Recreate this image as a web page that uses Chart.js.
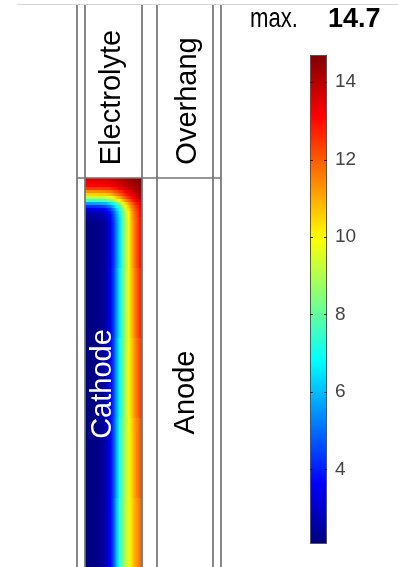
<!DOCTYPE html>
<html>
<head>
<meta charset="utf-8">
<script src="https://cdn.jsdelivr.net/npm/chart.js@4.4.1/dist/chart.umd.min.js"></script>
<style>
  html, body { margin: 0; padding: 0; background: #fff; }
  #wrap { position: relative; width: 398px; height: 567px; overflow: hidden; }
  #wrap canvas { position: absolute; top: 0; }
  #fieldChart { left: 0; }
  #scaleChart { left: 230px; }
</style>
</head>
<body>
<div id="wrap">
  <canvas id="fieldChart" width="398" height="567"></canvas>
  <canvas id="scaleChart" width="168" height="567"></canvas>
</div>
<script>
// cell edges across the cathode and down from its top
const xEdges = [0, 3, 6, 9, 12, 15, 18, 21, 24, 27, 30, 33, 36, 39, 42, 45, 48, 51, 54, 57];
const depthEdges = [0, 3, 6, 9, 12, 15, 18, 21, 24, 27, 30, 33, 36, 39, 42, 45, 90, 160, 240, 320, 389];

// field values, one row per depth band, left -> right
const fieldRows = [
  [13.5, 13.5, 13.5, 13.5, 13.5, 13.5, 13.5, 13.5, 13.6, 13.7, 13.8, 13.9, 14.0, 14.1, 14.2, 14.3, 14.4, 14.5, 14.5],
  [13.3, 13.3, 13.3, 13.3, 13.3, 13.3, 13.3, 13.4, 13.4, 13.5, 13.7, 13.8, 13.9, 14.0, 14.2, 14.3, 14.4, 14.4, 14.5],
  [13.1, 13.1, 13.1, 13.1, 13.1, 13.1, 13.1, 13.2, 13.3, 13.4, 13.5, 13.6, 13.8, 14.0, 14.1, 14.2, 14.3, 14.4, 14.5],
  [12.4, 12.4, 12.4, 12.4, 12.4, 12.4, 12.5, 12.5, 12.6, 12.8, 13.0, 13.2, 13.4, 13.6, 13.8, 14.0, 14.1, 14.3, 14.4],
  [11.4, 11.4, 11.4, 11.4, 11.4, 11.5, 11.5, 11.6, 11.7, 12.0, 12.2, 12.5, 12.8, 13.2, 13.4, 13.7, 13.9, 14.1, 14.2],
  [10.5, 10.5, 10.5, 10.5, 10.6, 10.6, 10.6, 10.7, 10.9, 11.2, 11.6, 11.9, 12.3, 12.7, 13.1, 13.4, 13.7, 13.9, 14.1],
  [9.2, 9.2, 9.2, 9.2, 9.3, 9.3, 9.4, 9.5, 9.7, 10.1, 10.6, 11.0, 11.6, 12.1, 12.6, 13.0, 13.3, 13.7, 13.9],
  [7.6, 7.6, 7.6, 7.6, 7.7, 7.7, 7.8, 8.0, 8.3, 8.8, 9.4, 10.0, 10.7, 11.4, 11.9, 12.5, 13.0, 13.4, 13.7],
  [5.6, 5.6, 5.6, 5.7, 5.7, 5.8, 5.9, 6.1, 6.5, 7.1, 7.9, 8.6, 9.6, 10.4, 11.2, 11.9, 12.5, 13.0, 13.4],
  [4.2, 4.2, 4.2, 4.3, 4.3, 4.4, 4.5, 4.8, 5.2, 6.0, 6.9, 7.7, 8.8, 9.8, 10.6, 11.5, 12.1, 12.7, 13.2],
  [3.3, 3.3, 3.3, 3.4, 3.4, 3.5, 3.6, 3.9, 4.4, 5.2, 6.2, 7.1, 8.3, 9.4, 10.3, 11.2, 11.9, 12.5, 13.1],
  [2.7, 2.7, 2.7, 2.8, 2.8, 2.9, 3.1, 3.3, 3.9, 4.7, 5.8, 6.7, 8.0, 9.1, 10.0, 11.0, 11.8, 12.4, 13.0],
  [2.5, 2.5, 2.5, 2.5, 2.6, 2.7, 2.8, 3.1, 3.6, 4.5, 5.6, 6.6, 7.8, 9.0, 9.9, 10.9, 11.7, 12.4, 13.0],
  [2.3, 2.3, 2.3, 2.4, 2.4, 2.5, 2.7, 3.0, 3.5, 4.4, 5.5, 6.4, 7.7, 8.9, 9.9, 10.9, 11.7, 12.3, 12.9],
  [2.2, 2.2, 2.2, 2.3, 2.3, 2.4, 2.6, 2.9, 3.4, 4.3, 5.4, 6.4, 7.7, 8.9, 9.8, 10.8, 11.6, 12.3, 12.9],
  [2.1, 2.1, 2.12, 2.15, 2.2, 2.3, 2.45, 2.75, 3.3, 4.2, 5.3, 6.4, 7.6, 8.8, 9.8, 10.8, 11.6, 12.3, 12.9],
  [2.1, 2.1, 2.12, 2.15, 2.2, 2.31, 2.49, 2.81, 3.38, 4.3, 5.5, 6.6, 7.75, 8.85, 9.75, 10.7, 11.45, 12.1, 12.65],
  [2.1, 2.1, 2.12, 2.15, 2.2, 2.32, 2.53, 2.88, 3.45, 4.4, 5.65, 6.8, 7.9, 8.9, 9.75, 10.55, 11.25, 11.85, 12.35],
  [2.1, 2.1, 2.12, 2.15, 2.2, 2.34, 2.56, 2.94, 3.52, 4.5, 5.8, 7.0, 8.05, 8.95, 9.7, 10.4, 11.05, 11.6, 12.05],
  [2.1, 2.1, 2.12, 2.15, 2.2, 2.35, 2.6, 3.0, 3.6, 4.6, 6.0, 7.2, 8.2, 9.0, 9.7, 10.3, 10.9, 11.4, 11.8]
];

// colour range and colour bar ticks
const fieldMin = 2.07;
const fieldMax = 14.7;
const colorTicks = [4, 6, 8, 10, 12, 14];

// jet colour map
const jetStops = [
  [0, [0, 0, 128]], [0.125, [0, 0, 255]], [0.375, [0, 255, 255]],
  [0.625, [255, 255, 0]], [0.875, [255, 0, 0]], [1, [128, 0, 0]]
];

function jet(v) {
  const t = Math.min(1, Math.max(0, (v - fieldMin) / (fieldMax - fieldMin)));
  for (let i = 1; i < jetStops.length; i++) {
    const [t1, c1] = jetStops[i];
    if (t <= t1) {
      const [t0, c0] = jetStops[i - 1];
      const f = (t - t0) / (t1 - t0);
      return "rgb(" + c0.map((c, k) => Math.round(c + (c1[k] - c) * f)).join(",") + ")";
    }
  }
  return "rgb(128,0,0)";
}

// one point per cell, centre of the cell
const cells = [];
fieldRows.forEach((row, r) => {
  row.forEach((v, c) => {
    cells.push({ x: (xEdges[c] + xEdges[c + 1]) / 2, y: (depthEdges[r] + depthEdges[r + 1]) / 2, v: v });
  });
});

const FONT = "'Liberation Sans', Arial, sans-serif";

function vText(c, text, x, y, color) {
  c.save();
  c.translate(x, y);
  c.rotate(-Math.PI / 2);
  c.fillStyle = color;
  c.font = "29px " + FONT;
  c.textAlign = "center";
  c.textBaseline = "alphabetic";
  c.fillText(text, 0, 0);
  c.restore();
}

const fieldPlugin = {
  id: "fieldPlugin",
  beforeDraw(chart) {
    const c = chart.ctx;
    c.save();
    c.fillStyle = "#fff";
    c.fillRect(0, 0, chart.width, chart.height);
    c.strokeStyle = "#d4d4d4";
    c.lineWidth = 1;
    c.beginPath();
    c.moveTo(17, 4.5); c.lineTo(398, 4.5);
    c.stroke();
    c.restore();
  },
  // each depth band is shaded through its cell centres
  beforeDatasetsDraw(chart) {
    const c = chart.ctx;
    const xs = chart.scales.x, ys = chart.scales.y;
    const left = xs.getPixelForValue(xEdges[0]);
    const right = xs.getPixelForValue(xEdges[xEdges.length - 1]);
    c.save();
    fieldRows.forEach((row, r) => {
      const py0 = Math.floor(ys.getPixelForValue(depthEdges[r]));
      const py1 = Math.ceil(ys.getPixelForValue(depthEdges[r + 1]));
      const g = c.createLinearGradient(left, 0, right, 0);
      row.forEach((v, k) => {
        const px = xs.getPixelForValue((xEdges[k] + xEdges[k + 1]) / 2);
        g.addColorStop((px - left) / (right - left), jet(v));
      });
      c.fillStyle = g;
      c.fillRect(left, py0, right - left, py1 - py0);
    });
    c.restore();
  },
  afterDatasetsDraw(chart) {
    const c = chart.ctx;
    const area = chart.chartArea;
    c.save();
    c.strokeStyle = "#737373";
    c.lineWidth = 1.7;
    [77, area.left, area.right, 157, 213, 221].forEach(x => {
      c.beginPath();
      c.moveTo(x, 5); c.lineTo(x, chart.height);
      c.stroke();
    });
    c.beginPath();
    c.moveTo(77, area.top); c.lineTo(221, area.top);
    c.stroke();
    c.restore();

    vText(c, "Electrolyte", 120, 97.5, "#000");
    vText(c, "Overhang", 196, 101, "#000");
    vText(c, "Cathode", 111, 384, "#fff");
    vText(c, "Anode", 193.5, 392.5, "#000");
  }
};

new Chart(document.getElementById("fieldChart"), {
  type: "scatter",
  data: { datasets: [{ data: cells, pointRadius: 0 }] },
  options: {
    responsive: false,
    animation: false,
    devicePixelRatio: 1,
    layout: { padding: { left: 85, right: 256, top: 178, bottom: 0 } },
    scales: {
      x: { type: "linear", min: xEdges[0], max: xEdges[xEdges.length - 1], display: false },
      y: { type: "linear", min: depthEdges[0], max: depthEdges[depthEdges.length - 1], reverse: true, display: false }
    },
    plugins: { legend: { display: false }, tooltip: { enabled: false } }
  },
  plugins: [fieldPlugin]
});

// colour bar
const barPlugin = {
  id: "barPlugin",
  afterDatasetsDraw(chart) {
    const c = chart.ctx;
    const a = chart.chartArea;
    const ys = chart.scales.y;
    c.save();
    c.strokeStyle = "#555";
    c.lineWidth = 1;
    c.strokeRect(a.left + 0.5, a.top + 0.5, a.right - a.left - 1, a.bottom - a.top - 1);
    c.strokeStyle = "#222";
    colorTicks.forEach(v => {
      const y = Math.round(ys.getPixelForValue(v)) + 0.5;
      c.beginPath();
      c.moveTo(a.left, y); c.lineTo(a.left + 3, y);
      c.moveTo(a.right - 3, y); c.lineTo(a.right, y);
      c.stroke();
    });
    // max. label
    c.fillStyle = "#000";
    c.textBaseline = "alphabetic";
    c.textAlign = "left";
    c.save();
    c.translate(20, 27);
    c.scale(0.82, 1);
    c.font = "27px " + FONT;
    c.fillText("max.", 0, 0);
    c.restore();
    c.font = "bold 27px " + FONT;
    c.fillText(fieldMax.toFixed(1), 98, 27);
    c.restore();
  }
};

new Chart(document.getElementById("scaleChart"), {
  type: "bar",
  data: {
    labels: ["c"],
    datasets: [{
      data: [[fieldMin, fieldMax]],
      barPercentage: 1,
      categoryPercentage: 1,
      borderWidth: 0,
      backgroundColor: (ctx) => {
        const ch = ctx.chart;
        if (!ch.chartArea) return "#888";
        const ys = ch.scales.y;
        const g = ch.ctx.createLinearGradient(0, ys.getPixelForValue(fieldMin), 0, ys.getPixelForValue(fieldMax));
        jetStops.forEach(([t, col]) => g.addColorStop(t, "rgb(" + col.join(",") + ")"));
        return g;
      }
    }]
  },
  options: {
    responsive: false,
    animation: false,
    devicePixelRatio: 1,
    layout: { padding: { left: 80, top: 55, bottom: 23, right: 0 } },
    scales: {
      x: { display: false },
      y: {
        position: "right",
        min: fieldMin,
        max: fieldMax,
        grid: { display: false, drawTicks: false },
        border: { display: false },
        afterBuildTicks: (axis) => { axis.ticks = colorTicks.map(v => ({ value: v })); },
        afterFit: (axis) => { axis.width = 71; },
        ticks: { padding: 8, color: "#444", font: { family: FONT, size: 19 } }
      }
    },
    plugins: { legend: { display: false }, tooltip: { enabled: false } }
  },
  plugins: [barPlugin]
});
</script>
</body>
</html>
